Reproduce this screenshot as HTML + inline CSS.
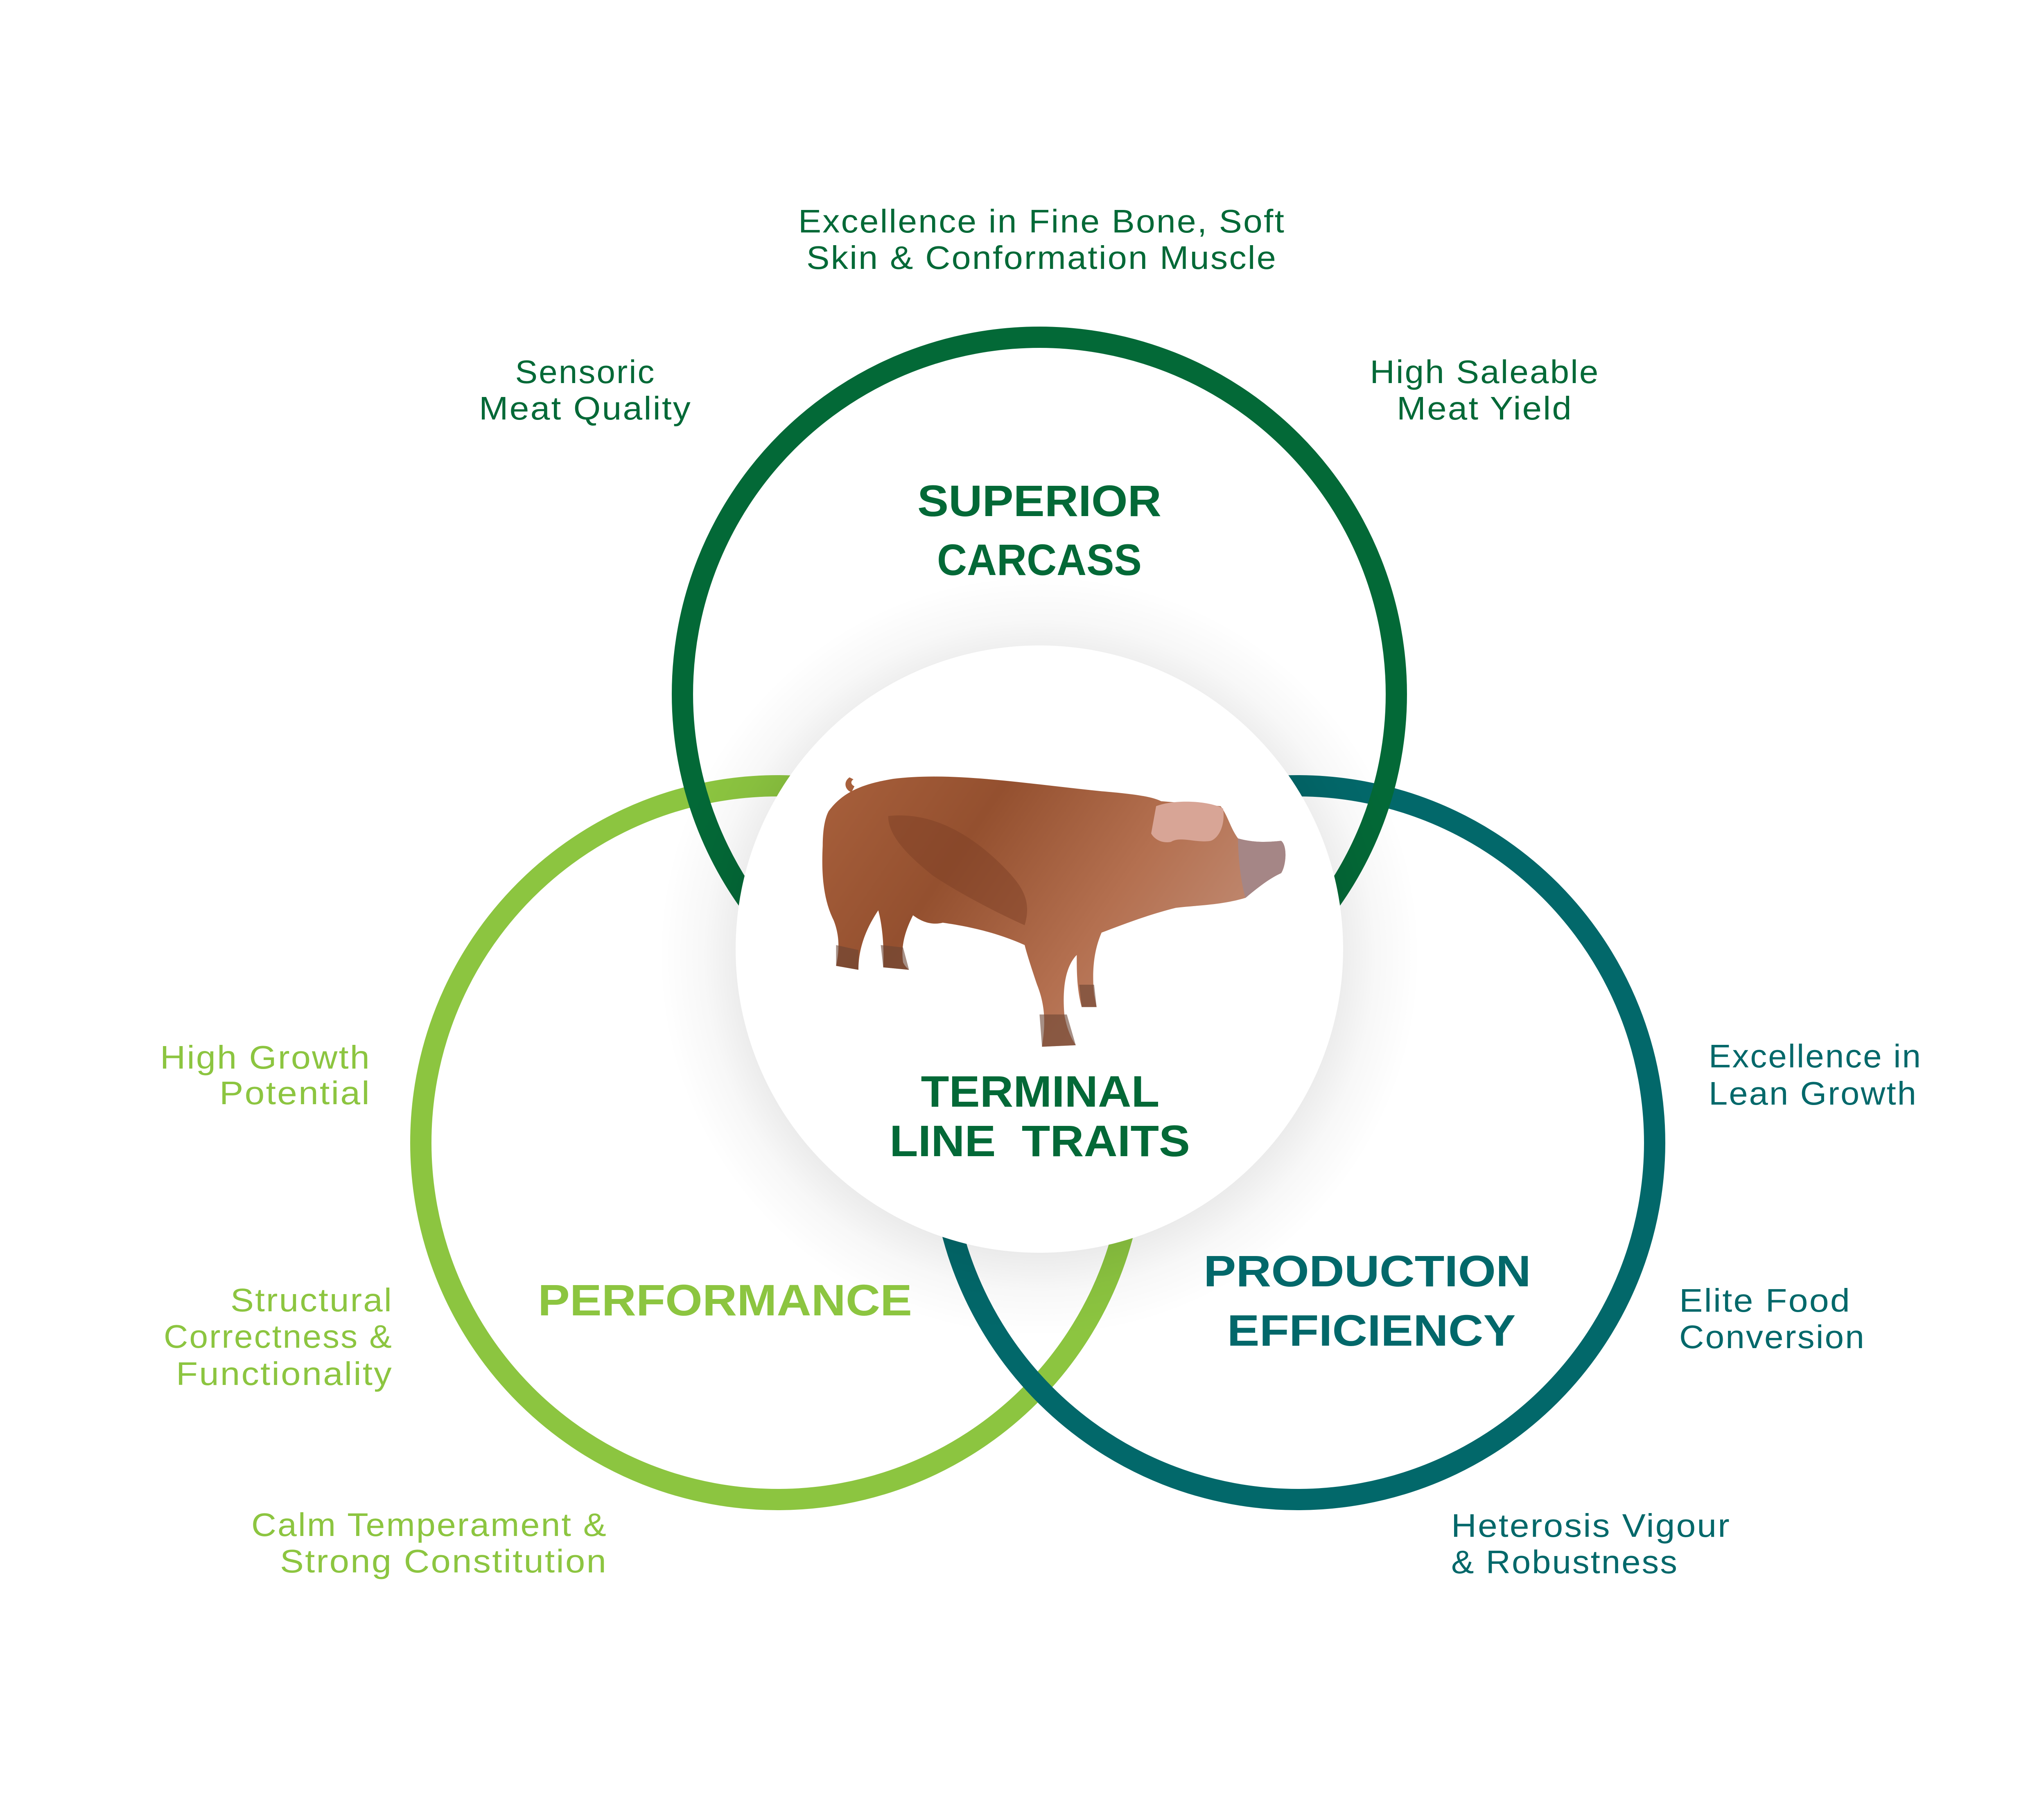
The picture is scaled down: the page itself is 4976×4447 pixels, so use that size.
<!DOCTYPE html>
<html><head><meta charset="utf-8"><style>
html,body{margin:0;padding:0;background:#fff;}
svg{display:block;}
text{font-family:"Liberation Sans",sans-serif;}
.r{font-size:80px;letter-spacing:3px;}
.b{font-size:108px;font-weight:bold;}
</style></head><body>
<svg width="4976" height="4447" viewBox="0 0 4976 4447" xmlns="http://www.w3.org/2000/svg">
<defs>
<radialGradient id="sh" cx="2539" cy="2335" r="930" gradientUnits="userSpaceOnUse">
<stop offset="0.78" stop-color="#000" stop-opacity="0.08"/>
<stop offset="0.88" stop-color="#000" stop-opacity="0.03"/>
<stop offset="1" stop-color="#000" stop-opacity="0"/>
</radialGradient>
<linearGradient id="pig" x1="0" y1="0" x2="1" y2="0.4">
<stop offset="0" stop-color="#a8603c"/>
<stop offset="0.35" stop-color="#94502f"/>
<stop offset="0.7" stop-color="#b47050"/>
<stop offset="1" stop-color="#c08a72"/>
</linearGradient>
</defs>
<rect width="4976" height="4447" fill="#fff"/>
<circle cx="1900" cy="2792" r="872" fill="none" stroke="#8cc540" stroke-width="52"/>
<circle cx="3170" cy="2792" r="872" fill="none" stroke="#02686a" stroke-width="52"/>
<circle cx="2539" cy="1696" r="872" fill="none" stroke="#036937" stroke-width="52"/>
<circle cx="2539" cy="2335" r="930" fill="url(#sh)"/>
<circle cx="2539" cy="2319" r="742" fill="#fff"/>
<g transform="translate(1600,1800) scale(1.2121)">
<path d="M392 82 C378 92 384 108 396 112 L402 100 C394 96 394 90 400 86 Z" fill="#a8603c"/>
<path d="M350 150 C380 110 420 95 480 85 C600 70 750 95 900 110 C960 115 1000 120 1020 130 L1140 140 C1155 160 1160 185 1175 205 C1210 215 1240 212 1262 210 C1275 220 1272 260 1262 275 C1240 285 1220 300 1190 325 C1140 340 1090 340 1050 345 C990 360 940 380 900 395 C885 430 880 470 885 520 L890 545 L860 545 C850 510 850 470 850 440 C830 460 820 500 825 560 C830 590 840 610 848 622 L780 625 C785 590 790 550 770 500 C760 470 750 440 745 420 C700 400 650 385 580 375 C560 380 540 375 520 360 C505 390 495 420 500 455 C505 465 510 468 512 470 L460 465 C462 420 458 380 450 350 C430 380 410 420 410 470 L365 462 C372 430 372 400 360 370 C340 330 335 280 338 220 C338 190 342 165 350 150 Z" fill="url(#pig)"/>
<path d="M470 160 C560 150 640 200 700 260 C740 300 760 330 745 380 C700 360 620 320 560 280 C510 240 470 200 470 160 Z" fill="#7e3f25" opacity="0.5"/>
<path d="M1010 140 C1050 125 1120 130 1145 145 C1150 180 1135 205 1120 210 C1090 215 1060 200 1040 212 C1020 216 1005 205 1000 195 Z" fill="#d8a596"/>
<path d="M1175 205 C1210 215 1240 212 1262 210 C1275 220 1272 260 1262 275 C1240 285 1220 300 1190 325 C1180 290 1175 240 1175 205 Z" fill="#a58686"/>
<path d="M365 420 L410 430 L410 470 L365 462 Z M455 420 L500 425 L512 470 L460 465 Z M775 560 L830 560 L848 622 L780 625 Z M855 500 L885 500 L890 545 L860 545 Z" fill="#6a4434" opacity="0.6"/>
</g>
<text class="b" x="2539" y="1261" text-anchor="middle" fill="#036937" textLength="596" lengthAdjust="spacingAndGlyphs">SUPERIOR</text>
<text class="b" x="2539" y="1405" text-anchor="middle" fill="#036937" textLength="500" lengthAdjust="spacingAndGlyphs">CARCASS</text>
<text class="b" x="2541" y="2704" text-anchor="middle" fill="#036937" font-size="102" textLength="583" lengthAdjust="spacingAndGlyphs">TERMINAL</text>
<text class="b" x="2540" y="2825" text-anchor="middle" fill="#036937" font-size="102" textLength="734" lengthAdjust="spacingAndGlyphs" xml:space="preserve">LINE  TRAITS</text>
<text class="b" x="1771" y="3214" text-anchor="middle" fill="#8cc540" textLength="914" lengthAdjust="spacingAndGlyphs">PERFORMANCE</text>
<text class="b" x="3340" y="3143" text-anchor="middle" fill="#02686a" textLength="800" lengthAdjust="spacingAndGlyphs">PRODUCTION</text>
<text class="b" x="3350" y="3288" text-anchor="middle" fill="#02686a" textLength="705" lengthAdjust="spacingAndGlyphs">EFFICIENCY</text>
<g class="r" fill="#036937" text-anchor="middle">
<text x="2545" y="568" textLength="1190" lengthAdjust="spacingAndGlyphs">Excellence in Fine Bone, Soft</text>
<text x="2545" y="657" textLength="1150" lengthAdjust="spacingAndGlyphs">Skin &amp; Conformation Muscle</text>
<text x="1430" y="936" textLength="343" lengthAdjust="spacingAndGlyphs">Sensoric</text>
<text x="1430" y="1025" textLength="520" lengthAdjust="spacingAndGlyphs">Meat Quality</text>
<text x="3627" y="936" textLength="561" lengthAdjust="spacingAndGlyphs">High Saleable</text>
<text x="3627" y="1025" textLength="430" lengthAdjust="spacingAndGlyphs">Meat Yield</text>
</g>
<g class="r" fill="#8cc540" text-anchor="end">
<text x="906" y="2611" textLength="515" lengthAdjust="spacingAndGlyphs">High Growth</text>
<text x="906" y="2698" textLength="370" lengthAdjust="spacingAndGlyphs">Potential</text>
<text x="960" y="3204" textLength="397" lengthAdjust="spacingAndGlyphs">Structural</text>
<text x="960" y="3293" textLength="560" lengthAdjust="spacingAndGlyphs">Correctness &amp;</text>
<text x="960" y="3384" textLength="530" lengthAdjust="spacingAndGlyphs">Functionality</text>
<text x="1484" y="3753" textLength="870" lengthAdjust="spacingAndGlyphs">Calm Temperament &amp;</text>
<text x="1484" y="3842" textLength="800" lengthAdjust="spacingAndGlyphs">Strong Constitution</text>
</g>
<g class="r" fill="#02686a">
<text x="4174" y="2608" textLength="521" lengthAdjust="spacingAndGlyphs">Excellence in</text>
<text x="4174" y="2699" textLength="510" lengthAdjust="spacingAndGlyphs">Lean Growth</text>
<text x="4102" y="3205" textLength="420" lengthAdjust="spacingAndGlyphs">Elite Food</text>
<text x="4102" y="3294" textLength="455" lengthAdjust="spacingAndGlyphs">Conversion</text>
<text x="3545" y="3755" textLength="683" lengthAdjust="spacingAndGlyphs">Heterosis Vigour</text>
<text x="3545" y="3844" textLength="555" lengthAdjust="spacingAndGlyphs">&amp; Robustness</text>
</g>
</svg>
</body></html>
